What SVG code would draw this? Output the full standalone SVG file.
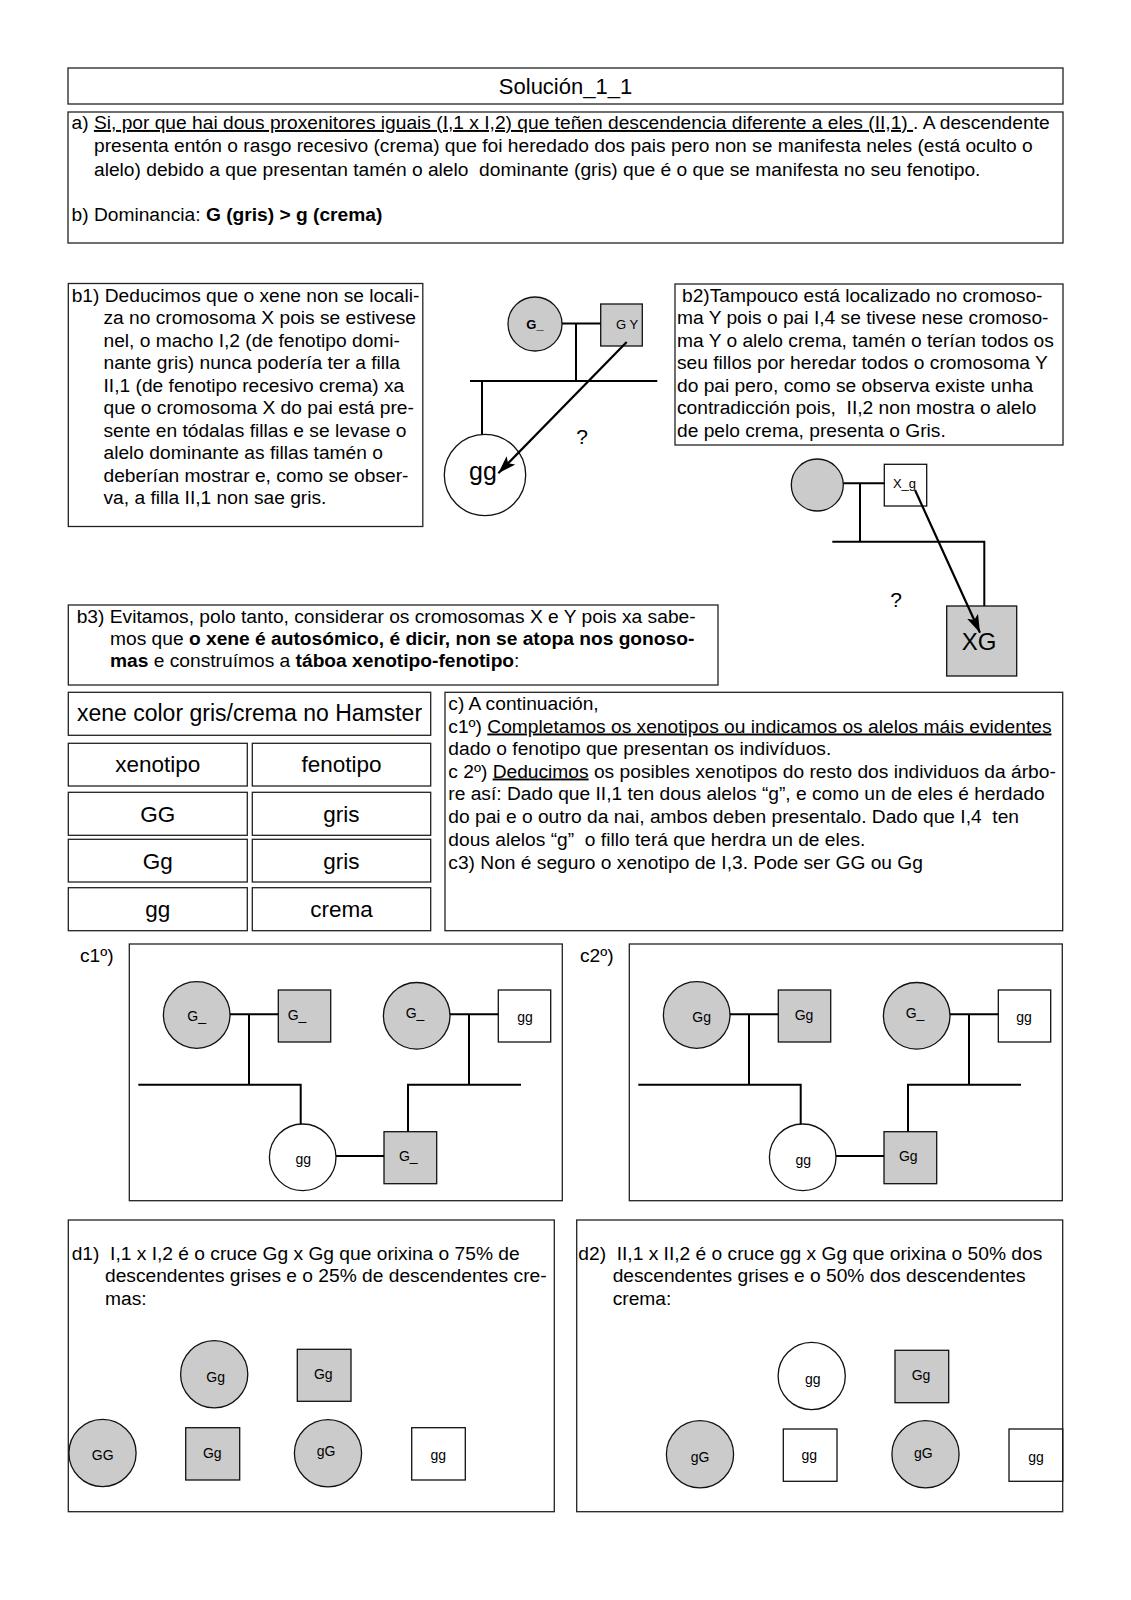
<svg xmlns="http://www.w3.org/2000/svg" width="1131" height="1600" viewBox="0 0 1131 1600">
<style>
.bx{fill:none;stroke:#222;stroke-width:1.3}
.t{font-family:"Liberation Sans",Arial,Helvetica,sans-serif;font-size:19.2px;fill:#000}
.b{font-weight:bold}
.u{text-decoration:underline}
.gy{fill:#cbcbcb;stroke:#111;stroke-width:1.3}
.wh{fill:#fff;stroke:#111;stroke-width:1.3}
.ln{fill:none;stroke:#000;stroke-width:2}
.ar{stroke:#000;stroke-width:2.2}
.lb{font-family:"Liberation Sans",Arial,Helvetica,sans-serif;font-size:14px;fill:#000;text-anchor:middle}
.mid{text-anchor:middle}
</style>
<defs>
<marker id="ah" markerWidth="18" markerHeight="12" refX="18" refY="6" orient="auto" markerUnits="userSpaceOnUse"><path d="M0,0 L18,6 L0,12 L4,6 z" fill="#000"/></marker>
</defs>
<rect width="1131" height="1600" fill="#fff"/>

<g id="title">
<rect class="bx" x="68" y="68" width="995" height="36"/>
<text class="t mid" x="565.5" y="94" style="font-size:22px">Solución_1_1</text>
</g>

<g id="box-a">
<rect class="bx" x="68" y="112" width="995" height="131"/>
<text class="t" x="71.5" y="129" xml:space="preserve">a) <tspan class="u">Si, por que hai dous proxenitores iguais (I,1 x I,2) que teñen descendencia diferente a eles (II,1) </tspan>. A descendente</text>
<text class="t" x="94" y="152">presenta entón o rasgo recesivo (crema) que foi heredado dos pais pero non se manifesta neles (está oculto o</text>
<text class="t" x="94" y="176" xml:space="preserve">alelo) debido a que presentan tamén o alelo  dominante (gris) que é o que se manifesta no seu fenotipo.</text>
<text class="t" x="71.5" y="221" xml:space="preserve">b) Dominancia: <tspan class="b">G (gris) &gt; g (crema)</tspan></text>
</g>

<g id="box-b1">
<rect class="bx" x="68.3" y="283.5" width="354.5" height="243"/>
<text class="t" x="71.7" y="301.5">b1) Deducimos que o xene non se locali-</text>
<text class="t" x="103.5" y="324">za no cromosoma X pois se estivese</text>
<text class="t" x="103.5" y="346.5">nel, o macho I,2 (de fenotipo domi-</text>
<text class="t" x="103.5" y="369">nante gris) nunca podería ter a filla</text>
<text class="t" x="103.5" y="391.5">II,1 (de fenotipo recesivo crema) xa</text>
<text class="t" x="103.5" y="414">que o cromosoma X do pai está pre-</text>
<text class="t" x="103.5" y="436.5">sente en tódalas fillas e se levase o</text>
<text class="t" x="103.5" y="459">alelo dominante as fillas tamén o</text>
<text class="t" x="103.5" y="481.5">deberían mostrar e, como se obser-</text>
<text class="t" x="103.5" y="504">va, a filla II,1 non sae gris.</text>
</g>

<g id="box-b2">
<rect class="bx" x="675" y="284" width="388" height="161"/>
<text class="t" x="682" y="301.5">b2)Tampouco está localizado no cromoso-</text>
<text class="t" x="677" y="324">ma Y pois o pai I,4 se tivese nese cromoso-</text>
<text class="t" x="677" y="346.5">ma Y o alelo crema, tamén o terían todos os</text>
<text class="t" x="677" y="369">seu fillos por heredar todos o cromosoma Y</text>
<text class="t" x="677" y="391.5">do pai pero, como se observa existe unha</text>
<text class="t" x="677" y="414" xml:space="preserve">contradicción pois,  II,2 non mostra o alelo</text>
<text class="t" x="677" y="436.5">de pelo crema, presenta o Gris.</text>
</g>

<g id="ped-b1">
<g id="b1-mother"><circle class="gy" cx="535" cy="324" r="27"/><text class="lb b" x="535" y="328.5" style="font-size:13px">G_</text></g>
<g id="b1-father"><rect class="gy" x="600.7" y="304" width="41.6" height="42"/><text class="lb" x="627" y="328.5" style="font-size:13px">G Y</text></g>
<g id="b1-child"><circle class="wh" cx="485" cy="475" r="40.7"/><text class="t mid" x="483" y="480" style="font-size:25px">gg</text></g>
<text class="t mid" x="582" y="444" style="font-size:21px">?</text>
</g>

<g id="ped-b2">
<g id="b2-mother"><circle class="gy" cx="817.3" cy="485" r="26"/></g>
<g id="b2-father"><rect class="wh" x="884.3" y="464.3" width="42.4" height="41.7"/><text class="lb" x="904.5" y="487.5" style="font-size:13px">X_g</text></g>
<g id="b2-son"><rect class="gy" x="946.7" y="606" width="70" height="70"/><text class="t mid" x="979" y="650" style="font-size:24px">XG</text></g>
<text class="t mid" x="896" y="607" style="font-size:21px">?</text>
</g>

<g id="box-b3">
<rect class="bx" x="68.3" y="605" width="649.7" height="80"/>
<text class="t" x="76.7" y="623">b3) Evitamos, polo tanto, considerar os cromosomas X e Y pois xa sabe-</text>
<text class="t" x="110" y="645">mos que <tspan class="b">o xene é autosómico, é dicir, non se atopa nos gonoso-</tspan></text>
<text class="t" x="110" y="667"><tspan class="b">mas</tspan> e construímos a <tspan class="b">táboa xenotipo-fenotipo</tspan>:</text>
</g>

<g id="table">
<rect class="bx" x="68.3" y="692.3" width="362.4" height="43"/>
<text class="t mid" x="249.5" y="720.5" style="font-size:23px">xene color gris/crema no Hamster</text>
<rect class="bx" x="68.3" y="743.3" width="179" height="42.7"/>
<rect class="bx" x="252.3" y="743.3" width="178.4" height="42.7"/>
<rect class="bx" x="68.3" y="792.3" width="179" height="43"/>
<rect class="bx" x="252.3" y="792.3" width="178.4" height="43"/>
<rect class="bx" x="68.3" y="839.3" width="179" height="42.7"/>
<rect class="bx" x="252.3" y="839.3" width="178.4" height="42.7"/>
<rect class="bx" x="68.3" y="887.7" width="179" height="43"/>
<rect class="bx" x="252.3" y="887.7" width="178.4" height="43"/>
<text class="t mid" x="157.8" y="772" style="font-size:22.5px">xenotipo</text>
<text class="t mid" x="341.5" y="772" style="font-size:22.5px">fenotipo</text>
<text class="t mid" x="157.8" y="821.5" style="font-size:22.5px">GG</text>
<text class="t mid" x="341.5" y="821.5" style="font-size:22.5px">gris</text>
<text class="t mid" x="157.8" y="868.5" style="font-size:22.5px">Gg</text>
<text class="t mid" x="341.5" y="868.5" style="font-size:22.5px">gris</text>
<text class="t mid" x="157.8" y="916.5" style="font-size:22.5px">gg</text>
<text class="t mid" x="341.5" y="916.5" style="font-size:22.5px">crema</text>
</g>

<g id="box-c">
<rect class="bx" x="445" y="692.3" width="617.7" height="238.4"/>
<text class="t" x="448.3" y="710">c) A continuación,</text>
<text class="t" x="448.3" y="732.5">c1º) <tspan class="u">Completamos os xenotipos ou indicamos os alelos máis evidentes</tspan></text>
<text class="t" x="448.3" y="755">dado o fenotipo que presentan os indivíduos.</text>
<text class="t" x="448.3" y="777.5">c 2º) <tspan class="u">Deducimos</tspan> os posibles xenotipos do resto dos individuos da árbo-</text>
<text class="t" x="448.3" y="800">re así: Dado que II,1 ten dous alelos “g”, e como un de eles é herdado</text>
<text class="t" x="448.3" y="823" xml:space="preserve">do pai e o outro da nai, ambos deben presentalo. Dado que I,4  ten</text>
<text class="t" x="448.3" y="846" xml:space="preserve">dous alelos “g”  o fillo terá que herdra un de eles.</text>
<text class="t" x="448.3" y="868.5">c3) Non é seguro o xenotipo de I,3. Pode ser GG ou Gg</text>
</g>

<g id="panel-c1">
<text class="t" x="80" y="962">c1º)</text>
<rect class="bx" x="129.3" y="944" width="433" height="256.7"/>
<g id="c1-I1"><circle class="gy" cx="196.7" cy="1015" r="33.3"/><text class="lb" x="196.7" y="1021">G_</text></g>
<g id="c1-I2"><rect class="gy" x="278.3" y="990" width="52.4" height="52"/><text class="lb" x="297" y="1020">G_</text></g>
<g id="c1-I3"><circle class="gy" cx="416.7" cy="1015.8" r="33.3"/><text class="lb" x="415" y="1017.5">G_</text></g>
<g id="c1-I4"><rect class="wh" x="498.3" y="990" width="52.4" height="52"/><text class="lb" x="525" y="1021.5">gg</text></g>
<g id="c1-II1"><circle class="wh" cx="302.7" cy="1157.3" r="33.3"/><text class="lb" x="303.3" y="1164">gg</text></g>
<g id="c1-II2"><rect class="gy" x="384" y="1131.7" width="52.7" height="52"/><text class="lb" x="408.3" y="1160.5">G_</text></g>
</g>

<g id="panel-c2">
<text class="t" x="580" y="962">c2º)</text>
<rect class="bx" x="629.3" y="944" width="433" height="256.7"/>
<g id="c2-I1"><circle class="gy" cx="696.7" cy="1015" r="33.3"/><text class="lb" x="701.7" y="1021.5">Gg</text></g>
<g id="c2-I2"><rect class="gy" x="778.3" y="990" width="52.4" height="52"/><text class="lb" x="804" y="1019.5">Gg</text></g>
<g id="c2-I3"><circle class="gy" cx="916.7" cy="1015.8" r="33.3"/><text class="lb" x="915" y="1017.5">G_</text></g>
<g id="c2-I4"><rect class="wh" x="998.3" y="990" width="52.4" height="52"/><text class="lb" x="1024" y="1021.5">gg</text></g>
<g id="c2-II1"><circle class="wh" cx="802.7" cy="1157.3" r="33.3"/><text class="lb" x="803.3" y="1164.5">gg</text></g>
<g id="c2-II2"><rect class="gy" x="884" y="1131.7" width="52.7" height="52"/><text class="lb" x="908.3" y="1160.5">Gg</text></g>
</g>

<g id="panel-d1">
<rect class="bx" x="68.3" y="1220" width="486" height="291.7"/>
<text class="t" x="71.7" y="1259.5" xml:space="preserve">d1)  I,1 x I,2 é o cruce Gg x Gg que orixina o 75% de</text>
<text class="t" x="105" y="1282">descendentes grises e o 25% de descendentes cre-</text>
<text class="t" x="105" y="1304.5">mas:</text>
<g id="d1-mother"><circle class="gy" cx="214.2" cy="1374.2" r="33.6"/><text class="lb" x="215.7" y="1381.5">Gg</text></g>
<g id="d1-father"><rect class="gy" x="297.3" y="1349.3" width="53.7" height="52"/><text class="lb" x="323.3" y="1379">Gg</text></g>
<g id="d1-o1"><circle class="gy" cx="102.5" cy="1453" r="33.6"/><text class="lb" x="102.7" y="1460">GG</text></g>
<g id="d1-o2"><rect class="gy" x="185.7" y="1427.7" width="54" height="52.3"/><text class="lb" x="212.3" y="1457.5">Gg</text></g>
<g id="d1-o3"><circle class="gy" cx="328" cy="1453.3" r="33.6"/><text class="lb" x="326" y="1455.5">gG</text></g>
<g id="d1-o4"><rect class="wh" x="411.7" y="1427.7" width="53.6" height="52.3"/><text class="lb" x="438.3" y="1460">gg</text></g>
</g>

<g id="panel-d2">
<rect class="bx" x="576.7" y="1220" width="486" height="291.7"/>
<text class="t" x="578.3" y="1259.5" xml:space="preserve">d2)  II,1 x II,2 é o cruce gg x Gg que orixina o 50% dos</text>
<text class="t" x="612.7" y="1282">descendentes grises e o 50% dos descendentes</text>
<text class="t" x="612.7" y="1304.5">crema:</text>
<g id="d2-mother"><circle class="wh" cx="811.7" cy="1376" r="33.6"/><text class="lb" x="812.7" y="1384">gg</text></g>
<g id="d2-father"><rect class="gy" x="895" y="1350.3" width="53.7" height="52.4"/><text class="lb" x="921" y="1380">Gg</text></g>
<g id="d2-o1"><circle class="gy" cx="700" cy="1454.3" r="33.6"/><text class="lb" x="700" y="1461.5">gG</text></g>
<g id="d2-o2"><rect class="wh" x="783.3" y="1429" width="53.7" height="52.3"/><text class="lb" x="809.3" y="1460">gg</text></g>
<g id="d2-o3"><circle class="gy" cx="925.5" cy="1454.3" r="33.6"/><text class="lb" x="923.3" y="1457.5">gG</text></g>
<g id="d2-o4"><rect class="wh" x="1009" y="1429" width="53.7" height="52.3"/><text class="lb" x="1036" y="1461.5">gg</text></g>
</g>

<g id="connectors">
<path class="ln" d="M562 323.5H600.7 M576 323.5V381 M470 381H657.3 M482 381V434.3"/>
<line class="ar" x1="626.7" y1="342" x2="498.3" y2="473.3" marker-end="url(#ah)"/>
<path class="ln" d="M843.3 483.3H884.3 M860 483.3V541.7 M832.3 541.7H984.3V606"/>
<line class="ar" x1="915" y1="490" x2="980" y2="632.7" marker-end="url(#ah)"/>
<path class="ln" d="M230 1014.3H278.3 M249 1014.3V1084.7 M138.3 1084.7H300.7V1124 M336 1156H384 M408 1131.7V1084.7H521 M469 1084.7V1014.3 M450 1014.3H498.3"/>
<path class="ln" d="M730 1014.3H778.3 M749 1014.3V1084.7 M638.3 1084.7H800.7V1124 M836 1156H884 M908 1131.7V1084.7H1021 M969 1084.7V1014.3 M950 1014.3H998.3"/>
</g>
</svg>
